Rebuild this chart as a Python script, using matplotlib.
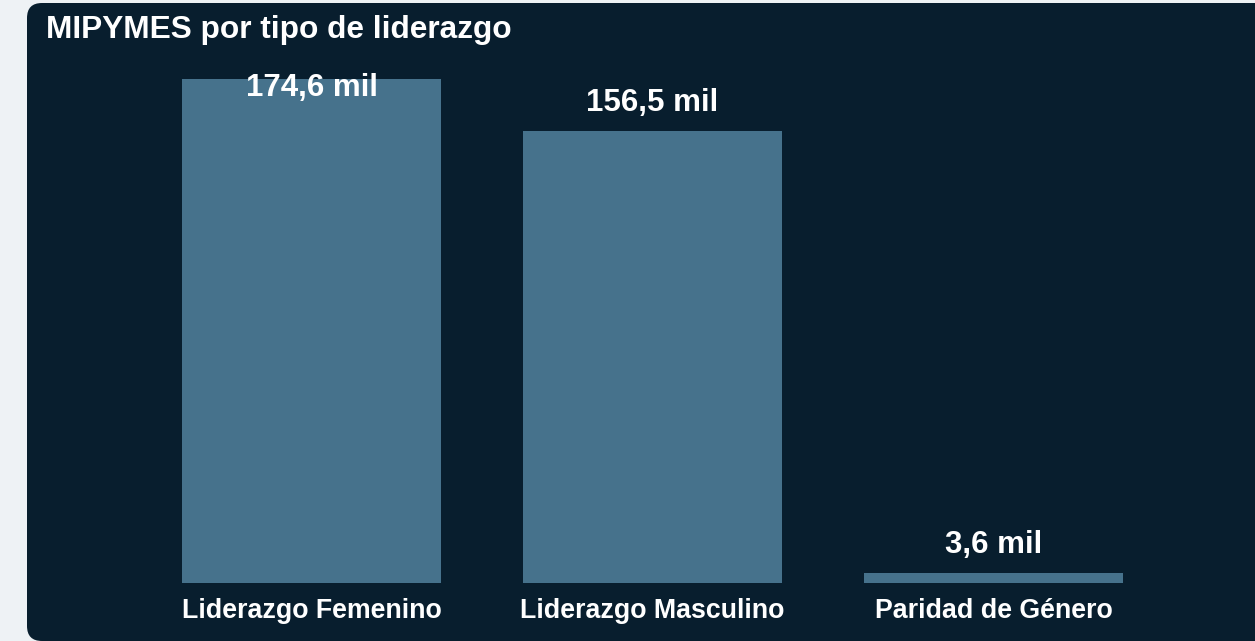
import matplotlib.pyplot as plt
from matplotlib.patches import FancyBboxPatch

# data
categorias = ["Liderazgo Femenino", "Liderazgo Masculino", "Paridad de Género"]
valores = [174.6, 156.5, 3.6]
etiquetas = ["174,6 mil", "156,5 mil", "3,6 mil"]
titulo = "MIPYMES por tipo de liderazgo"

plt.rcParams['font.family'] = ['Liberation Sans', 'DejaVu Sans']

fondo = "#eef2f5"
panel = "#081e2e"
barra = "#46728c"

fig = plt.figure(figsize=(12.55, 6.41), dpi=100)
fig.patch.set_facecolor(fondo)

# dark rounded panel (inch coords so the corners stay round)
caja = FancyBboxPatch((0.27, 0.0), 13.0, 6.38, boxstyle="round,pad=0,rounding_size=0.15",
                      transform=fig.dpi_scale_trans, facecolor=panel, edgecolor="none",
                      zorder=-5)
fig.patches.append(caja)

fig.text(46 / 1255, 1 - 30 / 641, titulo, color="white", fontsize=22.8,
         fontweight="bold", va="center", ha="left")

ax = fig.add_axes([141 / 1255, 58 / 641, 1023 / 1255, 504 / 641])
ax.set_facecolor("none")
x = range(len(categorias))
ax.bar(x, valores, width=0.76, color=barra)
ax.set_xlim(-0.5, 2.5)
ax.set_ylim(0, max(valores))

# value labels above bars, pushed inside when there is no room
for i, (v, t) in enumerate(zip(valores, etiquetas)):
    y = min(v + 9.7, max(valores) - 3.1)
    ax.text(i, y, t, color="white", fontsize=22.5, fontweight="bold",
            ha="center", va="center")

ax.set_xticks(list(x))
ax.set_xticklabels(categorias, color="white", fontsize=19.3, fontweight="bold")
ax.tick_params(axis="x", length=0, pad=11)
ax.set_yticks([])
for s in ax.spines.values():
    s.set_visible(False)

fig.savefig("out.png", dpi=100, facecolor=fondo)
